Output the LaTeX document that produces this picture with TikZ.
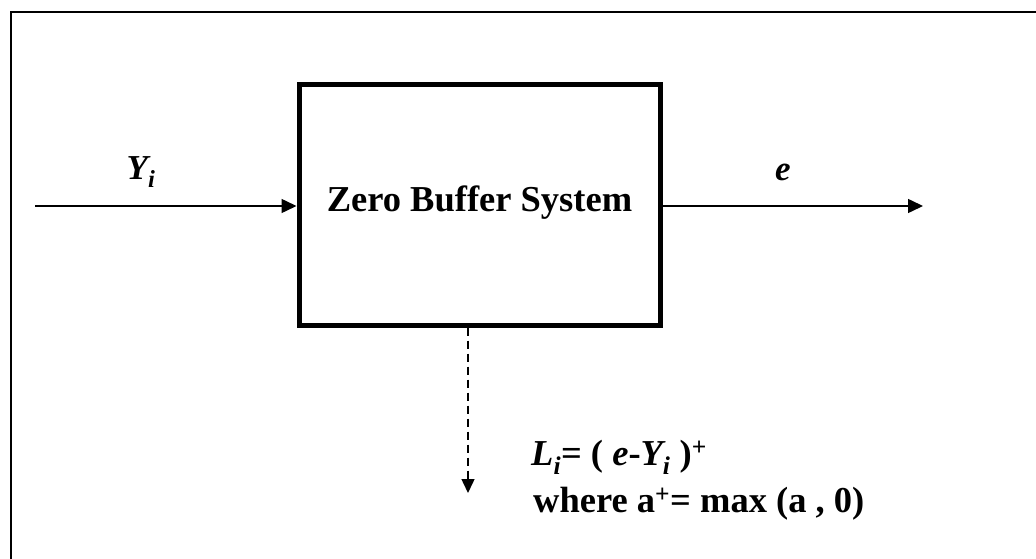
\documentclass[tikz,border=0pt]{standalone}
\usepackage{fontspec}
\setmainfont{Liberation Serif}
\usetikzlibrary{arrows.meta}
\tikzset{
  flow/.style={line width=1.5pt,-{Triangle[length=15pt,width=14pt]}},
  dflow/.style={line width=1.5pt,dash pattern=on 8pt off 5pt,-{Triangle[length=14pt,width=13pt]}},
  sysbox/.style={draw,line width=5pt,minimum width=361pt,minimum height=240pt,inner sep=0pt,font=\fontsize{36.5}{40}\selectfont\bfseries},
  lbl/.style={inner sep=0pt,anchor=base,font=\fontsize{35}{40}\selectfont\bfseries\itshape},
  eqn/.style={inner sep=0pt,anchor=base west,font=\fontsize{36.5}{40}\selectfont\bfseries}
}
\begin{document}
\begin{tikzpicture}[x=1pt,y=-1pt]
\useasboundingbox (0,0) rectangle (1036,559);
\draw[line width=2pt] (10.5,559) -- (10.5,12.5) -- (1036,12.5);
\node[sysbox] (box) at (479.5,205) {\raisebox{12pt}{Zero Buffer System}};
\coordinate (in) at (35,206);
\coordinate (out) at (923,206);
\draw[flow] (in) -- (box.west |- in);
\draw[flow] (box.east |- out) -- (out);
\node[lbl] (yi) at (141,179) {Y\textsubscript{i}};
\node[lbl] (e) at (783,180) {e};
\coordinate (dend) at (468,493);
\draw[dflow] (dend |- box.south) -- (dend);
\node[eqn] (eq1) at (531,465) {\textit{L}\textsubscript{\textit{i}}= ( \textit{e}-\textit{Y\textsubscript{i}} )\textsuperscript{+}};
\node[eqn] (eq2) at (533,512) {where a\textsuperscript{+}= max (a , 0)};
\end{tikzpicture}
\end{document}
